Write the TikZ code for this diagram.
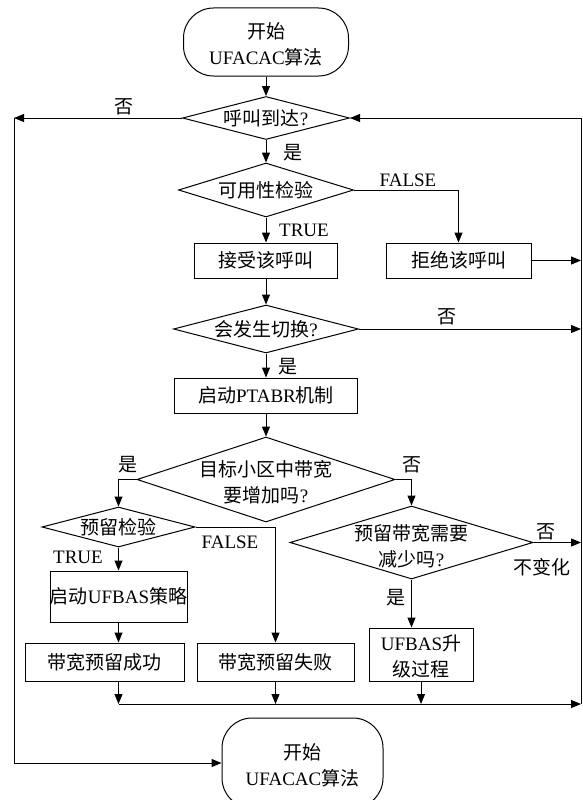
\documentclass[tikz,border=0pt]{standalone}
\usepackage{fontspec}
\setmainfont{Liberation Serif}
\newfontfamily\cj{Noto Sans CJK SC}
\usetikzlibrary{shapes.geometric,arrows.meta}
\newcommand{\zh}[1]{{\cj #1}}
\begin{document}
\begin{tikzpicture}[x=1pt,y=-1pt, line width=1pt,
  base/.style={draw, inner sep=0pt, font=\fontsize{19}{26}\selectfont, align=center},
  box/.style={base, rectangle},
  term/.style={base, rectangle, rounded corners=30pt},
  dia/.style={base, diamond},
  lbl/.style={inner sep=0pt, font=\fontsize{19}{26}\selectfont, align=center},
  arr/.style={-{Triangle[length=10pt,width=8pt]}}]
\useasboundingbox (0,0) rectangle (582,800);
% nodes
\node[term, minimum width=165pt, minimum height=68pt] (start) at (266,42) {};
\node[lbl] (startt) at (266,44) {\zh{开始}\\UFACAC\zh{算法}};
\node[dia, minimum width=167pt, minimum height=43pt, label={[lbl]center:{\zh{呼叫到达}?}}] (d1) at (266,118) {};
\node[dia, minimum width=175pt, minimum height=54pt, label={[lbl]center:{\zh{可用性检验}}}] (d2) at (266,190) {};
\node[box, minimum width=143pt, minimum height=35pt] (acc) at (266,260.5) {\zh{接受该呼叫}};
\node[box, minimum width=145pt, minimum height=35pt] (rej) at (458.5,260.5) {\zh{拒绝该呼叫}};
\node[dia, minimum width=185pt, minimum height=48pt, label={[lbl]center:{\zh{会发生切换}?}}] (d3) at (266,329) {};
\node[box, minimum width=183pt, minimum height=35pt] (ptabr) at (266,395.5) {\zh{启动}PTABR\zh{机制}};
\node[dia, minimum width=258pt, minimum height=85pt, label={[lbl,yshift=-3pt]center:{\zh{目标小区中带宽}\\\zh{要增加吗}?}}] (d4) at (266,479.5) {};
\node[dia, minimum width=153pt, minimum height=40pt, label={[lbl]center:{\zh{预留检验}}}] (d5) at (118.5,527) {};
\node[box, minimum width=137pt, minimum height=51pt, label={[lbl]center:{\zh{启动}UFBAS\zh{策略}}}] (ufbas) at (118.5,596.5) {};
\node[dia, minimum width=243pt, minimum height=73pt, label={[lbl,yshift=-4pt]center:{\zh{预留带宽需要}\\\zh{减少吗}?}}] (d6) at (411.5,542.5) {};
\node[box, minimum width=104pt, minimum height=53pt] (upg) at (421,654.5) {};
\node[lbl] (upgt) at (421,656) {UFBAS\zh{升}\\\zh{级过程}};
\node[box, minimum width=159pt, minimum height=38pt] (succ) at (104.5,662) {\zh{带宽预留成功}};
\node[box, minimum width=157pt, minimum height=38pt] (fail) at (275.5,662) {\zh{带宽预留失败}};
\node[term, minimum width=161pt, minimum height=90pt] (end) at (302.5,763) {};
\node[lbl] (endt) at (302.5,765) {\zh{开始}\\UFACAC\zh{算法}};
% helper coordinates
\coordinate (R1) at (581,118);
\coordinate (L1) at (14,118);
\coordinate (L2) at (14,763);
\coordinate (bus) at (0,704);
% connectors
\draw[arr] (start) -- (d1);
\draw[arr] (d1) -- (d2);
\draw[arr] (d2.east) -| (rej.north);
\draw[arr] (d2) -- (acc);
\draw[arr] (acc) -- (d3);
\draw[arr] (rej.east) -- (rej.east -| R1);
\draw[arr] (d3.east) -- (d3.east -| R1);
\draw[arr] (d3) -- (ptabr);
\draw[arr] (ptabr) -- (d4);
\draw[arr] (d4.west) -| (d5.north);
\draw[arr] (d4.east) -| (d6.north);
\draw[arr] (d5.east) -| (fail.north);
\draw[arr] (d5) -- (ufbas);
\draw[arr] (ufbas.south) -- (ufbas.south |- succ.north);
\draw[arr] (d6.east) -- (d6.east -| R1);
\draw[arr] (d6.south) -- (d6.south |- upg.north);
\draw[arr] (ufbas.south |- succ.south) -- (ufbas.south |- bus);
\draw[arr] (fail.south) -- (fail.south |- bus);
\draw[arr] (upg.south) -- (upg.south |- bus);
\draw[arr] (ufbas.south |- bus) -- (R1 |- bus);
\draw (R1 |- bus) -- (R1);
\draw[arr] (R1) -- (d1.east);
\draw[arr] (d1.west) -- (L1);
\draw (L1) -- (L2);
\draw[arr] (L2) -- (end.west);
% edge labels
\node[lbl] (n1) at (124,107) {\zh{否}};
\node[lbl] (y1) at (293,153) {\zh{是}};
\node[lbl] (f1) at (408,180) {FALSE};
\node[lbl] (t1) at (304,230) {TRUE};
\node[lbl] (n3) at (447,317) {\zh{否}};
\node[lbl] (y3) at (288,367) {\zh{是}};
\node[lbl] (y4) at (128,465) {\zh{是}};
\node[lbl] (n4) at (412,465) {\zh{否}};
\node[lbl] (f5) at (230,542) {FALSE};
\node[lbl] (t5) at (78,557) {TRUE};
\node[lbl] (n6) at (546,532) {\zh{否}};
\node[lbl] (k6) at (542,567) {\zh{不变化}};
\node[lbl] (y6) at (396,598) {\zh{是}};
\end{tikzpicture}
\end{document}
